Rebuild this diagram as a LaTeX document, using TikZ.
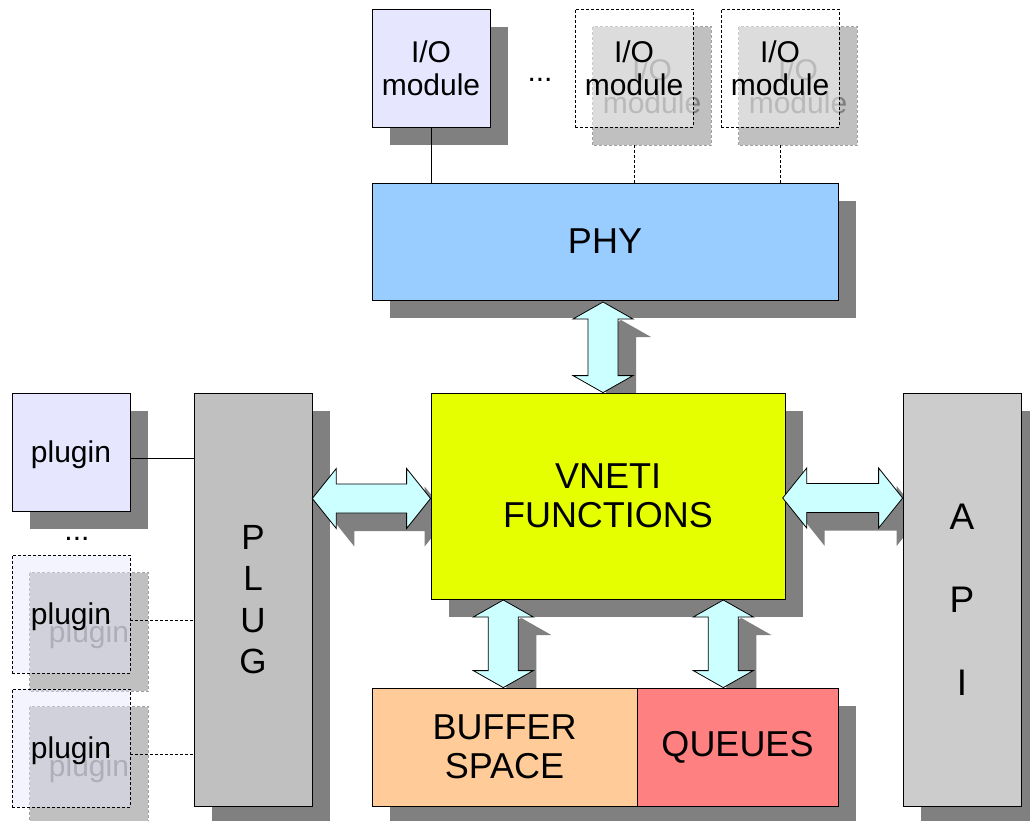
\documentclass[tikz,border=0pt]{standalone}
\usepackage{fontspec}
\setmainfont{Liberation Sans}
\usetikzlibrary{calc}
\pgfdeclarelayer{shadow}
\pgfsetlayers{shadow,main}
\definecolor{shadowgray}{HTML}{808080}
\definecolor{ghostshadow}{HTML}{C0C0C0}
\definecolor{ghostedge}{HTML}{A0A0A0}
\definecolor{ghosttext}{HTML}{808080}
\definecolor{lavender}{HTML}{E6E6FF}
\definecolor{phyblue}{HTML}{99CCFF}
\definecolor{vnetiyellow}{HTML}{E6FF00}
\definecolor{plugray}{HTML}{C0C0C0}
\definecolor{apigray}{HTML}{CCCCCC}
\definecolor{bufferorange}{HTML}{FFCC99}
\definecolor{queuered}{HTML}{FF8080}
\definecolor{arrowcyan}{HTML}{CCFFFF}
% vertical double block arrow: #1 style, #2 top tip, #3 bottom tip, #4 offset
\newcommand\vbiarrow[4]{%
  \path[#1] ($(#2)+(#4)$) -- ($(#2)+(#4)+(30,17)$) -- ($(#2)+(#4)+(15,17)$)
    -- ($(#3)+(#4)+(15,-17)$) -- ($(#3)+(#4)+(30,-17)$) -- ($(#3)+(#4)$)
    -- ($(#3)+(#4)+(-30,-17)$) -- ($(#3)+(#4)+(-15,-17)$)
    -- ($(#2)+(#4)+(-15,17)$) -- ($(#2)+(#4)+(-30,17)$) -- cycle;}
% horizontal double block arrow: #1 style, #2 left tip, #3 right tip, #4 offset
\newcommand\hbiarrow[4]{%
  \path[#1] ($(#2)+(#4)$) -- ($(#2)+(#4)+(24,-30)$) -- ($(#2)+(#4)+(24,-14.5)$)
    -- ($(#3)+(#4)+(-24,-14.5)$) -- ($(#3)+(#4)+(-24,-30)$) -- ($(#3)+(#4)$)
    -- ($(#3)+(#4)+(-24,30)$) -- ($(#3)+(#4)+(-24,14.5)$)
    -- ($(#2)+(#4)+(24,14.5)$) -- ($(#2)+(#4)+(24,30)$) -- cycle;}
\begin{document}
\begin{tikzpicture}[x=1pt,y=-1pt,
  box/.style={draw=black, line width=0.8pt, inner sep=0pt, align=center, text=black,
    font=\fontsize{30}{33}\selectfont},
  ghost/.style={box, dash pattern=on 3pt off 2pt, fill opacity=0.45, text opacity=1},
  shade/.style={fill=shadowgray},
  ghostshade/.style={fill=ghostshadow, draw=ghostedge, dash pattern=on 3pt off 2pt, line width=0.8pt},
  ghosttxt/.style={inner sep=0pt, align=center, text=ghosttext, font=\fontsize{30}{33}\selectfont},
  dotstxt/.style={inner sep=0pt, anchor=base, font=\fontsize{30}{33}\selectfont},
  barrow/.style={draw=black, line width=0.8pt, fill=arrowcyan, line join=miter},
  link/.style={draw=black, line width=0.8pt},
  ghostlink/.style={link, dash pattern=on 3pt off 2pt},
]
\useasboundingbox (0,0) rectangle (1030,821);

% ---------- boxes ----------
\node[box, fill=lavender, minimum width=118, minimum height=118] (io1) at (431,68) {I/O\\module};
\node[ghost, fill=white, minimum width=118, minimum height=118] (io2) at (634,68) {I/O\\module};
\node[ghost, fill=white, minimum width=118, minimum height=118] (io3) at (780,68) {I/O\\module};
\node[dotstxt] (dots1) at (540,82) {...};

\node[box, fill=phyblue, minimum width=466, minimum height=117,
  font=\fontsize{36}{40}\selectfont] (phy) at (605,241.5) {PHY};
\node[box, fill=vnetiyellow, minimum width=354, minimum height=206,
  font=\fontsize{36}{39.5}\selectfont] (vneti) at (608,496) {VNETI\\FUNCTIONS};
\node[box, fill=plugray, minimum width=118, minimum height=413,
  font=\fontsize{35}{41.5}\selectfont] (plug) at (253,599.5) {P\\L\\U\\G};
\node[box, fill=apigray, minimum width=118, minimum height=413,
  font=\fontsize{37}{83}\selectfont] (api) at (962,599.5) {A\\P\\I};

\node[box, fill=lavender, minimum width=118, minimum height=118, text depth=0pt] (plugin1) at (71,452) {plugin};
\node[ghost, fill=lavender, minimum width=118, minimum height=118, text depth=0pt] (plugin2) at (71,614) {plugin};
\node[ghost, fill=lavender, minimum width=118, minimum height=118, text depth=0pt] (plugin3) at (71,748) {plugin};
\node[dotstxt] (dots2) at (77,540) {...};

\node[box, fill=bufferorange, minimum width=265, minimum height=118,
  font=\fontsize{36}{38.5}\selectfont] (buffer) at (504.5,747) {BUFFER\\SPACE};
\node[box, fill=queuered, minimum width=201, minimum height=118,
  font=\fontsize{36}{38.5}\selectfont] (queues) at (737.5,747) {QUEUES};

% ---------- arrow tips ----------
\coordinate (a1t) at (603,302);
\coordinate (a1b) at (a1t |- vneti.north);
\coordinate (a2t) at (503.3,600);
\coordinate (a2b) at (a2t |- buffer.north);
\coordinate (a3t) at (723.3,600);
\coordinate (a3b) at (a3t |- queues.north);
\coordinate (a4l) at (312.3,498.5);
\coordinate (a4r) at (a4l -| vneti.west);
\coordinate (a5l) at (782.7,498);
\coordinate (a5r) at (a5l -| api.west);

% ---------- shadows ----------
\begin{pgfonlayer}{shadow}
  \foreach \n in {io1,phy,vneti,plug,api,plugin1}
    \fill[shade] ($(\n.north west)+(18,18)$) rectangle ($(\n.south east)+(18,18)$);
  \fill[shade] ($(buffer.north west)+(18,18)$) rectangle ($(queues.south east)+(18,18)$);
  \vbiarrow{shade}{a1t}{a1b}{18,18}
  \vbiarrow{shade}{a2t}{a2b}{18,18}
  \vbiarrow{shade}{a3t}{a3b}{18,18}
  \hbiarrow{shade}{a4l}{a4r}{18,18}
  \hbiarrow{shade}{a5l}{a5r}{18,18}
  \foreach \n in {io2,io3,plugin2,plugin3}
    \path[ghostshade] ($(\n.north west)+(18,18)$) rectangle ($(\n.south east)+(18,18)$);
  \node[ghosttxt] (io2g) at ($(io2)+(18,18)$) {I/O\\module};
  \node[ghosttxt] (io3g) at ($(io3)+(18,18)$) {I/O\\module};
  \node[ghosttxt, text depth=0pt] (plugin2g) at ($(plugin2)+(18,18)$) {plugin};
  \node[ghosttxt, text depth=0pt] (plugin3g) at ($(plugin3)+(18,18)$) {plugin};
\end{pgfonlayer}

% ---------- connectors ----------
\draw[link] (io1.south) -- (io1.south |- phy.north);
\coordinate (io2s) at ($(io2.south)+(0,18)$);
\coordinate (io3s) at ($(io3.south)+(0,18)$);
\draw[ghostlink] (io2s) -- (io2s |- phy.north);
\draw[ghostlink] (io3s) -- (io3s |- phy.north);
\coordinate (p1) at ($(plugin1.east)+(0,6)$);
\coordinate (p2) at ($(plugin2.east)+(0,6)$);
\coordinate (p3) at ($(plugin3.east)+(0,6)$);
\draw[link] (p1) -- (p1 -| plug.west);
\draw[ghostlink] (p2) -- (p2 -| plug.west);
\draw[ghostlink] (p3) -- (p3 -| plug.west);

\vbiarrow{barrow}{a1t}{a1b}{0,0}
\vbiarrow{barrow}{a2t}{a2b}{0,0}
\vbiarrow{barrow}{a3t}{a3b}{0,0}
\hbiarrow{barrow}{a4l}{a4r}{0,0}
\hbiarrow{barrow}{a5l}{a5r}{0,0}
\end{tikzpicture}
\end{document}
